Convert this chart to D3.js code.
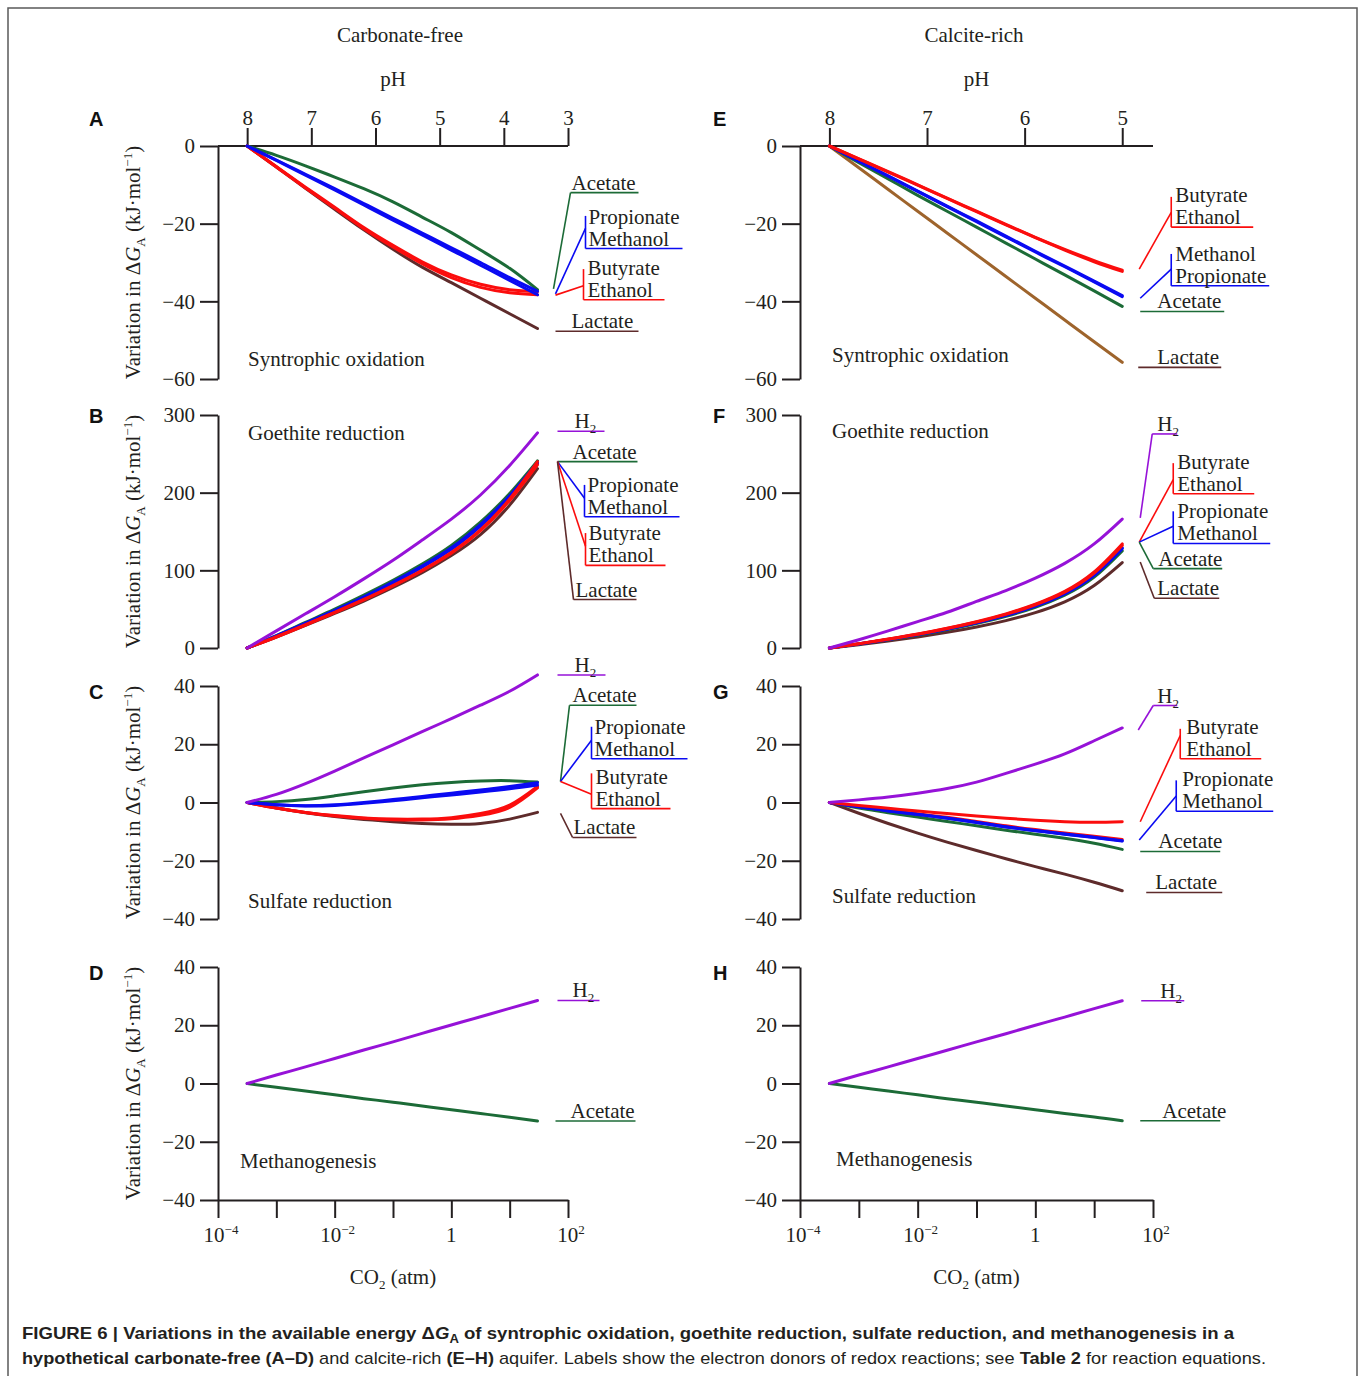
<!DOCTYPE html>
<html>
<head>
<meta charset="utf-8">
<script src="https://cdn.jsdelivr.net/npm/d3@7"></script>
<style>
  body { margin: 0; background: #fff; }
  svg { display: block; }
</style>
</head>
<body>
<div id="chart"></div>
<script>
// CO2 partial pressure (atm) at which every curve is sampled
const co2 = [3.16e-4, 1e-3, 3.16e-3, 1e-2, 3.16e-2, 0.1, 0.316, 1, 3.16, 10, 30];

// A: carbonate-free, syntrophic oxidation
const aAcetate    = [0, -2.4, -5.1, -8.0, -11.0, -14.4, -18.3, -22.3, -26.8, -31.5, -37.0];
const aPropionate = [0, -3.6, -7.3, -11.0, -14.8, -18.6, -22.4, -26.2, -30.0, -33.9, -37.4];
const aMethanol   = [0, -3.7, -7.5, -11.3, -15.2, -19.1, -22.9, -26.8, -30.7, -34.6, -38.3];
const aButyrate   = [0, -5.3, -10.6, -15.8, -21.0, -25.6, -29.8, -33.2, -35.6, -37.0, -37.5];
const aEthanol    = [0, -5.4, -10.8, -16.0, -21.3, -26.0, -30.3, -33.9, -36.4, -37.8, -38.3];
const aLactate    = [0, -5.4, -10.9, -16.3, -21.6, -26.6, -31.2, -35.2, -39.2, -43.2, -47.0];

// B: carbonate-free, goethite reduction
const bH2         = [0, 22, 44, 66, 89, 113, 139, 166, 197, 235, 277];
const bAcetate    = [0, 16, 33, 50, 68, 87, 108, 132, 162, 199, 241];
const bPropionate = [0, 15.5, 32, 48.5, 66, 85, 105.5, 129, 159, 196, 239];
const bMethanol   = [0, 15, 31, 47.5, 65, 83.5, 104, 127, 157, 194, 238];
const bButyrate   = [0, 14.5, 30, 46, 62.5, 80.5, 100, 123, 152, 192, 240];
const bEthanol    = [0, 14, 29.5, 45.5, 62, 80, 99.5, 122, 151, 190, 236];
const bLactate    = [0, 14, 29, 44.5, 60.5, 78, 97, 119, 146, 184, 231];

// C: carbonate-free, sulfate reduction
const cH2         = [0, 2.8, 6.5, 10.8, 15.3, 19.8, 24.3, 28.8, 33.4, 38.2, 43.8];
const cAcetate    = [0, 0.3, 1.0, 2.3, 3.7, 5.0, 6.1, 6.9, 7.4, 7.5, 7.0];
const cPropionate = [0, -0.8, -1.2, -1.0, -0.3, 0.6, 1.6, 2.6, 3.6, 4.7, 6.0];
const cMethanol   = [0, -0.8, -1.1, -0.8, 0, 1.0, 2.1, 3.2, 4.3, 5.5, 6.8];
const cButyrate   = [0, -1.9, -3.4, -4.5, -5.3, -5.7, -5.7, -5.2, -3.8, -0.9, 5.5];
const cEthanol    = [0, -1.9, -3.4, -4.6, -5.4, -5.9, -6.0, -5.6, -4.4, -1.7, 5.0];
const cLactate    = [0, -1.9, -3.5, -4.8, -5.8, -6.6, -7.2, -7.5, -7.2, -5.7, -3.4];

// D: carbonate-free, methanogenesis
const dH2         = [0, 2.9, 5.7, 8.6, 11.5, 14.3, 17.2, 20.1, 22.9, 25.8, 28.5];
const dAcetate    = [0, -1.3, -2.6, -3.9, -5.2, -6.4, -7.7, -9.0, -10.3, -11.6, -12.9];

// E: calcite-rich, syntrophic oxidation
const eButyrate   = [0, -3.3, -6.6, -10.0, -13.4, -16.8, -20.2, -23.5, -26.6, -29.5, -32.0];
const eEthanol    = [0, -3.3, -6.7, -10.1, -13.5, -16.9, -20.3, -23.6, -26.8, -29.8, -32.3];
const eMethanol   = [0, -3.9, -7.7, -11.6, -15.5, -19.3, -23.2, -27.1, -30.9, -34.8, -38.5];
const ePropionate = [0, -3.9, -7.8, -11.7, -15.6, -19.5, -23.4, -27.3, -31.1, -35.0, -38.8];
const eAcetate    = [0, -4.3, -8.5, -12.7, -16.8, -20.9, -25.0, -29.1, -33.2, -37.3, -41.3];
const eLactate    = [0, -5.6, -11.2, -16.8, -22.4, -28.0, -33.6, -39.2, -44.8, -50.4, -55.7];

// F: calcite-rich, goethite reduction
const fH2         = [0, 10.7, 22, 34, 46, 60, 74, 90, 109, 134, 166];
const fButyrate   = [0, 5.5, 11.5, 18, 25.5, 34, 44, 56.5, 73, 98, 134];
const fEthanol    = [0, 5.4, 11.3, 17.7, 25.1, 33.5, 43.3, 55.7, 72, 96.5, 132];
const fPropionate = [0, 5.3, 11.1, 17.3, 24.5, 32.7, 42.3, 54.3, 70.3, 94.2, 129];
const fMethanol   = [0, 5.2, 11.0, 17.2, 24.3, 32.4, 42.0, 53.9, 69.8, 93.5, 128];
const fAcetate    = [0, 5.0, 10.6, 16.7, 23.6, 31.6, 40.8, 52.5, 68.0, 91.2, 125];
const fLactate    = [0, 4.3, 9.1, 14.3, 20.2, 27.1, 35.3, 45.6, 59.5, 80.5, 110];

// G: calcite-rich, sulfate reduction
const gH2         = [0, 0.9, 1.9, 3.2, 4.8, 7.0, 10.0, 13.2, 16.7, 21.2, 25.6];
const gButyrate   = [0, -1.0, -2.0, -2.9, -3.8, -4.6, -5.4, -6.1, -6.6, -6.8, -6.6];
const gEthanol    = [0, -1.4, -2.7, -3.9, -5.1, -6.5, -8.0, -9.3, -10.5, -11.6, -12.7];
const gPropionate = [0, -1.5, -2.8, -4.0, -5.3, -6.8, -8.3, -9.6, -10.8, -11.9, -13.1];
const gMethanol   = [0, -1.5, -2.9, -4.1, -5.4, -6.9, -8.4, -9.7, -10.9, -12.0, -13.2];
const gAcetate    = [0, -1.9, -3.5, -5.0, -6.5, -8.0, -9.5, -10.9, -12.3, -14.0, -16.1];
const gLactate    = [0, -3.7, -7.2, -10.5, -13.6, -16.5, -19.3, -22.0, -24.6, -27.4, -30.3];

// H: calcite-rich, methanogenesis
const hH2         = [0, 2.9, 5.7, 8.6, 11.4, 14.3, 17.1, 20.0, 22.8, 25.7, 28.4];
const hAcetate    = [0, -1.3, -2.6, -3.9, -5.2, -6.4, -7.7, -9.0, -10.3, -11.5, -12.8];

// tick labels
const phTicksLeft = [8, 7, 6, 5, 4, 3];
const phTicksRight = [8, 7, 6, 5];
const co2Decades = [1e-4, 1e-3, 1e-2, 1e-1, 1, 1e1, 1e2];
const co2Labels = [["10", "−4"], null, ["10", "−2"], null, ["1", ""], null, ["10", "2"]];

const GREEN = "#1c6b37", BLUE = "#0a0af2", RED = "#fb0d0d", BROWN = "#5e2b2b",
      TAN = "#9e642c", PURPLE = "#9612d8", INK = "#231f20";
const serif = "'Liberation Serif','Times New Roman',serif";
const sans = "'Liberation Sans',Arial,sans-serif";

const cols = [
  { axisX: 218, range: [218, 568], phDomain: [8, 3], phEnd: 100, phTicks: phTicksLeft,
    letterX: 89, title: "Carbonate-free", titleX: 400, yTitle: true },
  { axisX: 800, range: [800, 1153], phDomain: [8, 5], phEnd: 30, phTicks: phTicksRight,
    letterX: 713, title: "Calcite-rich", titleX: 974, yTitle: false }
];
const rowTop = [146, 415, 686, 967];
const rowH = 233;
const letterDy = [-20, 8, 13, 13];

// label groups: x offsets in px from the curve ends, y positions in data units
const panels = [
  { id: "A", col: 0, row: 0, domain: [-60, 0], ticks: [0, -20, -40, -60],
    text: "Syntrophic oxidation", textDx: 30, textDy: 220,
    series: [[aLactate, BROWN], [aAcetate, GREEN], [aButyrate, RED], [aEthanol, RED], [aPropionate, BLUE], [aMethanol, BLUE]],
    labels: [
      { t: ["Acetate"], c: GREEN, x0: 16, y0: -36.8, x1: 33, y1: -12.0, under: -12.0, w: 68, tx: 34 },
      { t: ["Propionate", "Methanol"], c: BLUE, x0: 18, y0: -38.1, x1: 48, y1: -21.2, top: -18.0, under: -26.4, w: 97, tx: 51 },
      { t: ["Butyrate", "Ethanol"], c: RED, x0: 18, y0: -38.4, x1: 46, y1: -36.0, top: -31.7, under: -39.6, w: 81, tx: 50 },
      { t: ["Lactate"], c: BROWN, x0: 18, y0: -47.7, x1: 18, y1: -47.7, under: -47.7, w: 83, tx: 34 }
    ] },
  { id: "B", col: 0, row: 1, domain: [0, 300], ticks: [0, 100, 200, 300],
    text: "Goethite reduction", textDx: 30, textDy: 25,
    series: [[bLactate, BROWN], [bAcetate, GREEN], [bPropionate, BLUE], [bMethanol, BLUE], [bButyrate, RED], [bEthanol, RED], [bH2, PURPLE]],
    labels: [
      { t: ["H2"], c: PURPLE, x0: 20, y0: 279, x1: 20, y1: 279, under: 279, w: 47, tx: 37 },
      { t: ["Acetate"], c: GREEN, x0: 20, y0: 240, x1: 20, y1: 240, under: 240, w: 80, tx: 35 },
      { t: ["Propionate", "Methanol"], c: BLUE, x0: 20, y0: 240, x1: 47, y1: 192.7, top: 210, under: 169, w: 95, tx: 50 },
      { t: ["Butyrate", "Ethanol"], c: RED, x0: 20, y0: 240, x1: 48, y1: 131, top: 148, under: 106.4, w: 80, tx: 51 },
      { t: ["Lactate"], c: BROWN, x0: 20, y0: 240, x1: 36, y1: 62.4, under: 62.4, w: 63, tx: 38 }
    ] },
  { id: "C", col: 0, row: 2, domain: [-40, 40], ticks: [40, 20, 0, -20, -40],
    text: "Sulfate reduction", textDx: 30, textDy: 222,
    series: [[cLactate, BROWN], [cAcetate, GREEN], [cButyrate, RED], [cEthanol, RED], [cPropionate, BLUE], [cMethanol, BLUE], [cH2, PURPLE]],
    labels: [
      { t: ["H2"], c: PURPLE, x0: 20, y0: 43.8, x1: 20, y1: 43.8, under: 43.8, w: 48, tx: 37 },
      { t: ["Acetate"], c: GREEN, x0: 23, y0: 7.2, x1: 32, y1: 33.4, under: 33.4, w: 67, tx: 35 },
      { t: ["Propionate", "Methanol"], c: BLUE, x0: 23, y0: 7.2, x1: 54, y1: 21.4, top: 26, under: 15, w: 96, tx: 57 },
      { t: ["Butyrate", "Ethanol"], c: RED, x0: 23, y0: 7.2, x1: 54, y1: 2.8, top: 10, under: -2.1, w: 79, tx: 58 },
      { t: ["Lactate"], c: BROWN, x0: 23, y0: -3.7, x1: 35, y1: -12, under: -12, w: 64, tx: 36 }
    ] },
  { id: "D", col: 0, row: 3, domain: [-40, 40], ticks: [40, 20, 0, -20, -40],
    text: "Methanogenesis", textDx: 22, textDy: 201,
    series: [[dAcetate, GREEN], [dH2, PURPLE]],
    labels: [
      { t: ["H2"], c: PURPLE, x0: 20, y0: 28.5, x1: 20, y1: 28.5, under: 28.5, w: 42, tx: 35 },
      { t: ["Acetate"], c: GREEN, x0: 18, y0: -12.9, x1: 18, y1: -12.9, under: -12.9, w: 80, tx: 33 }
    ] },
  { id: "E", col: 1, row: 0, domain: [-60, 0], ticks: [0, -20, -40, -60],
    text: "Syntrophic oxidation", textDx: 32, textDy: 216,
    series: [[eLactate, TAN], [eAcetate, GREEN], [ePropionate, BLUE], [eMethanol, BLUE], [eEthanol, RED], [eButyrate, RED]],
    labels: [
      { t: ["Butyrate", "Ethanol"], c: RED, x0: 17, y0: -31.7, x1: 49, y1: -17.1, top: -13.1, under: -20.9, w: 82, tx: 53 },
      { t: ["Methanol", "Propionate"], c: BLUE, x0: 18, y0: -39.2, x1: 49, y1: -31.7, top: -27.8, under: -36.0, w: 98, tx: 53 },
      { t: ["Acetate"], c: GREEN, x0: 18, y0: -42.6, x1: 18, y1: -42.6, under: -42.6, w: 84, tx: 35 },
      { t: ["Lactate"], c: BROWN, x0: 16, y0: -57.0, x1: 16, y1: -57.0, under: -57.0, w: 83, tx: 35 }
    ] },
  { id: "F", col: 1, row: 1, domain: [0, 300], ticks: [0, 100, 200, 300],
    text: "Goethite reduction", textDx: 32, textDy: 23,
    series: [[fLactate, BROWN], [fAcetate, GREEN], [fMethanol, BLUE], [fPropionate, BLUE], [fEthanol, RED], [fButyrate, RED], [fH2, PURPLE]],
    labels: [
      { t: ["H2"], c: PURPLE, x0: 18, y0: 167.5, x1: 30, y1: 275.6, under: 275.6, w: 25, tx: 35 },
      { t: ["Butyrate", "Ethanol"], c: RED, x0: 17, y0: 136.3, x1: 51, y1: 216.7, top: 238, under: 198.7, w: 81, tx: 55 },
      { t: ["Propionate", "Methanol"], c: BLUE, x0: 17, y0: 136.3, x1: 51, y1: 156.8, top: 176, under: 134.6, w: 97, tx: 55 },
      { t: ["Acetate"], c: GREEN, x0: 17, y0: 136.3, x1: 31, y1: 102.2, under: 102.2, w: 69, tx: 36 },
      { t: ["Lactate"], c: BROWN, x0: 18, y0: 110.7, x1: 32, y1: 64, under: 64, w: 65, tx: 35 }
    ] },
  { id: "G", col: 1, row: 2, domain: [-40, 40], ticks: [40, 20, 0, -20, -40],
    text: "Sulfate reduction", textDx: 32, textDy: 217,
    series: [[gLactate, BROWN], [gAcetate, GREEN], [gEthanol, RED], [gPropionate, BLUE], [gMethanol, BLUE], [gButyrate, RED], [gH2, PURPLE]],
    labels: [
      { t: ["H2"], c: PURPLE, x0: 16, y0: 24.9, x1: 31, y1: 33.3, under: 33.3, w: 24, tx: 35 },
      { t: ["Butyrate", "Ethanol"], c: RED, x0: 18, y0: -6.6, x1: 58, y1: 23, top: 25.3, under: 15, w: 81, tx: 64 },
      { t: ["Propionate", "Methanol"], c: BLUE, x0: 17, y0: -12.9, x1: 54, y1: 2.2, top: 7.6, under: -3, w: 97, tx: 60 },
      { t: ["Acetate"], c: GREEN, x0: 18, y0: -16.8, x1: 18, y1: -16.8, under: -16.8, w: 80, tx: 36 },
      { t: ["Lactate"], c: BROWN, x0: 24, y0: -30.9, x1: 24, y1: -30.9, under: -30.9, w: 76, tx: 33 }
    ] },
  { id: "H", col: 1, row: 3, domain: [-40, 40], ticks: [40, 20, 0, -20, -40],
    text: "Methanogenesis", textDx: 36, textDy: 199,
    series: [[hAcetate, GREEN], [hH2, PURPLE]],
    labels: [
      { t: ["H2"], c: PURPLE, x0: 19, y0: 28.4, x1: 19, y1: 28.4, under: 28.4, w: 43, tx: 38 },
      { t: ["Acetate"], c: GREEN, x0: 18, y0: -12.8, x1: 18, y1: -12.8, under: -12.8, w: 80, tx: 40 }
    ] }
];

const svg = d3.select("#chart").append("svg")
    .attr("width", 1360)
    .attr("height", 1376);

// figure frame
svg.append("rect")
    .attr("x", 8).attr("y", 8)
    .attr("width", 1349).attr("height", 1400)
    .attr("fill", "none")
    .attr("stroke", "#5a5a5a")
    .attr("stroke-width", 1.5);

function styleAxis(g) {
  g.attr("font-family", serif).attr("font-size", 21);
  g.selectAll(".domain").attr("stroke", INK).attr("stroke-width", 2);
  g.selectAll(".tick line").attr("stroke", INK).attr("stroke-width", 2);
  g.selectAll(".tick text").attr("fill", INK);
}

// writes "H2" with a subscript, everything else plain
function labelText(sel, s) {
  if (s === "H2") {
    sel.append("tspan").text("H");
    sel.append("tspan").attr("font-size", 13).attr("dy", 5).text("2");
  } else {
    sel.text(s);
  }
}

cols.forEach(col => {
  const x = d3.scaleLog().domain([1e-4, 1e2]).range(col.range);
  col.x = x;
  col.ph = d3.scaleLinear().domain(col.phDomain).range([x(co2[0]), x(col.phEnd)]);
  const mid = (col.range[0] + col.range[1]) / 2;

  svg.append("text")
      .attr("x", col.titleX).attr("y", 42)
      .attr("text-anchor", "middle")
      .attr("font-family", serif).attr("font-size", 21).attr("fill", INK)
      .text(col.title);

  svg.append("text")
      .attr("x", mid).attr("y", 86)
      .attr("text-anchor", "middle")
      .attr("font-family", serif).attr("font-size", 21).attr("fill", INK)
      .text("pH");

  const co2Title = svg.append("text")
      .attr("x", mid).attr("y", 1284)
      .attr("text-anchor", "middle")
      .attr("font-family", serif).attr("font-size", 21).attr("fill", INK);
  co2Title.append("tspan").text("CO");
  co2Title.append("tspan").attr("font-size", 13).attr("dy", 5).text("2");
  co2Title.append("tspan").attr("dy", -5).text(" (atm)");
});

panels.forEach(p => {
  const col = cols[p.col];
  const x = col.x;
  const top = rowTop[p.row];
  const y = d3.scaleLinear().domain(p.domain).range([top + rowH, top]);
  const xe = x(co2[co2.length - 1]);
  const g = svg.append("g");

  // y axis
  g.append("g")
      .attr("transform", `translate(${col.axisX},0)`)
      .call(d3.axisLeft(y).tickValues(p.ticks).tickSize(18).tickSizeOuter(0).tickPadding(5))
      .call(styleAxis);

  // pH axis on the top row
  if (p.row === 0) {
    g.append("line")
        .attr("x1", col.axisX).attr("x2", x(1e2))
        .attr("y1", y(0)).attr("y2", y(0))
        .attr("stroke", INK).attr("stroke-width", 2);
    g.append("g")
        .attr("transform", `translate(0,${y(0)})`)
        .call(d3.axisTop(col.ph).tickValues(col.phTicks).tickFormat(d3.format("d"))
          .tickSize(18).tickSizeOuter(0).tickPadding(3))
        .call(styleAxis)
        .call(a => a.select(".domain").remove());
  }

  // CO2 axis on the bottom row
  if (p.row === 3) {
    const yb = y(-40);
    g.append("g")
        .attr("transform", `translate(0,${yb})`)
        .call(d3.axisBottom(x).tickValues(co2Decades).tickSize(18).tickSizeOuter(0).tickFormat(""))
        .call(styleAxis);
    co2Decades.forEach((v, i) => {
      const lab = co2Labels[i];
      if (!lab) return;
      const t = g.append("text")
          .attr("x", x(v) + (lab[1] ? 3 : 0)).attr("y", yb + 42)
          .attr("text-anchor", "middle")
          .attr("font-family", serif).attr("font-size", 21).attr("fill", INK);
      t.append("tspan").text(lab[0]);
      if (lab[1]) t.append("tspan").attr("font-size", 13).attr("dy", -8).text(lab[1]);
    });
  }

  // y axis title (left column only)
  if (col.yTitle) {
    const cy = top + rowH / 2;
    const t = g.append("text")
        .attr("transform", `translate(133,${cy}) rotate(-90)`)
        .attr("text-anchor", "middle")
        .attr("dy", "0.35em")
        .attr("font-family", serif).attr("font-size", 21).attr("fill", INK);
    t.append("tspan").text("Variation in Δ");
    t.append("tspan").attr("font-style", "italic").text("G");
    t.append("tspan").attr("font-size", 13).attr("dy", 5).text("A");
    t.append("tspan").attr("dy", -5).text(" (kJ·mol");
    t.append("tspan").attr("font-size", 13).attr("dy", -8).text("−1");
    t.append("tspan").attr("dy", 8).text(")");
  }

  // panel letter
  g.append("text")
      .attr("x", col.letterX).attr("y", top + letterDy[p.row])
      .attr("font-family", sans).attr("font-weight", "bold").attr("font-size", 20).attr("fill", "#111")
      .text(p.id);

  // process name
  g.append("text")
      .attr("x", col.axisX + p.textDx).attr("y", top + p.textDy)
      .attr("font-family", serif).attr("font-size", 21).attr("fill", INK)
      .text(p.text);

  // curves
  const line = d3.line()
      .x((d, i) => x(co2[i]))
      .y(d => y(d))
      .curve(d3.curveNatural);
  g.append("g")
      .attr("fill", "none")
      .attr("stroke-width", 3)
      .attr("stroke-linecap", "round")
    .selectAll("path")
    .data(p.series)
    .join("path")
      .attr("stroke", d => d[1])
      .attr("d", d => line(d[0]));

  // labels with leader lines
  p.labels.forEach(L => {
    const lg = g.append("g").attr("stroke", L.c).attr("stroke-width", 1.6).attr("fill", "none");
    if (L.x0 !== L.x1 || L.y0 !== L.y1) {
      lg.append("line")
          .attr("x1", xe + L.x0).attr("y1", y(L.y0))
          .attr("x2", xe + L.x1).attr("y2", y(L.y1));
    }
    if (L.top !== undefined) {
      lg.append("line")
          .attr("x1", xe + L.x1).attr("y1", y(L.top))
          .attr("x2", xe + L.x1).attr("y2", y(L.under));
    }
    lg.append("line")
        .attr("x1", xe + L.x1).attr("y1", y(L.under))
        .attr("x2", xe + L.x1 + L.w).attr("y2", y(L.under));

    const n = L.t.length;
    L.t.forEach((s, i) => {
      const t = g.append("text")
          .attr("x", xe + L.tx)
          .attr("y", y(L.under) - 3 - (n - 1 - i) * 22)
          .attr("font-family", serif).attr("font-size", 21).attr("fill", INK);
      labelText(t, s);
    });
  });
});

// caption
const cap1 = svg.append("text")
    .attr("x", 22).attr("y", 1339)
    .attr("font-family", sans).attr("font-size", 17).attr("font-weight", "bold").attr("fill", INK)
    .attr("textLength", 1212).attr("lengthAdjust", "spacingAndGlyphs");
cap1.append("tspan").text("FIGURE 6 | Variations in the available energy Δ");
cap1.append("tspan").attr("font-style", "italic").text("G");
cap1.append("tspan").attr("font-size", 12).attr("dy", 4).text("A");
cap1.append("tspan").attr("dy", -4).text(" of syntrophic oxidation, goethite reduction, sulfate reduction, and methanogenesis in a");

const cap2 = svg.append("text")
    .attr("x", 22).attr("y", 1364)
    .attr("font-family", sans).attr("font-size", 17).attr("fill", INK)
    .attr("textLength", 1244).attr("lengthAdjust", "spacingAndGlyphs");
[["hypothetical carbonate-free (A–D)", true], [" and calcite-rich ", false], ["(E–H)", true],
 [" aquifer. Labels show the electron donors of redox reactions; see ", false],
 ["Table 2", true], [" for reaction equations.", false]].forEach(([s, b]) => {
  cap2.append("tspan").attr("font-weight", b ? "bold" : "normal").text(s);
});
</script>
</body>
</html>
